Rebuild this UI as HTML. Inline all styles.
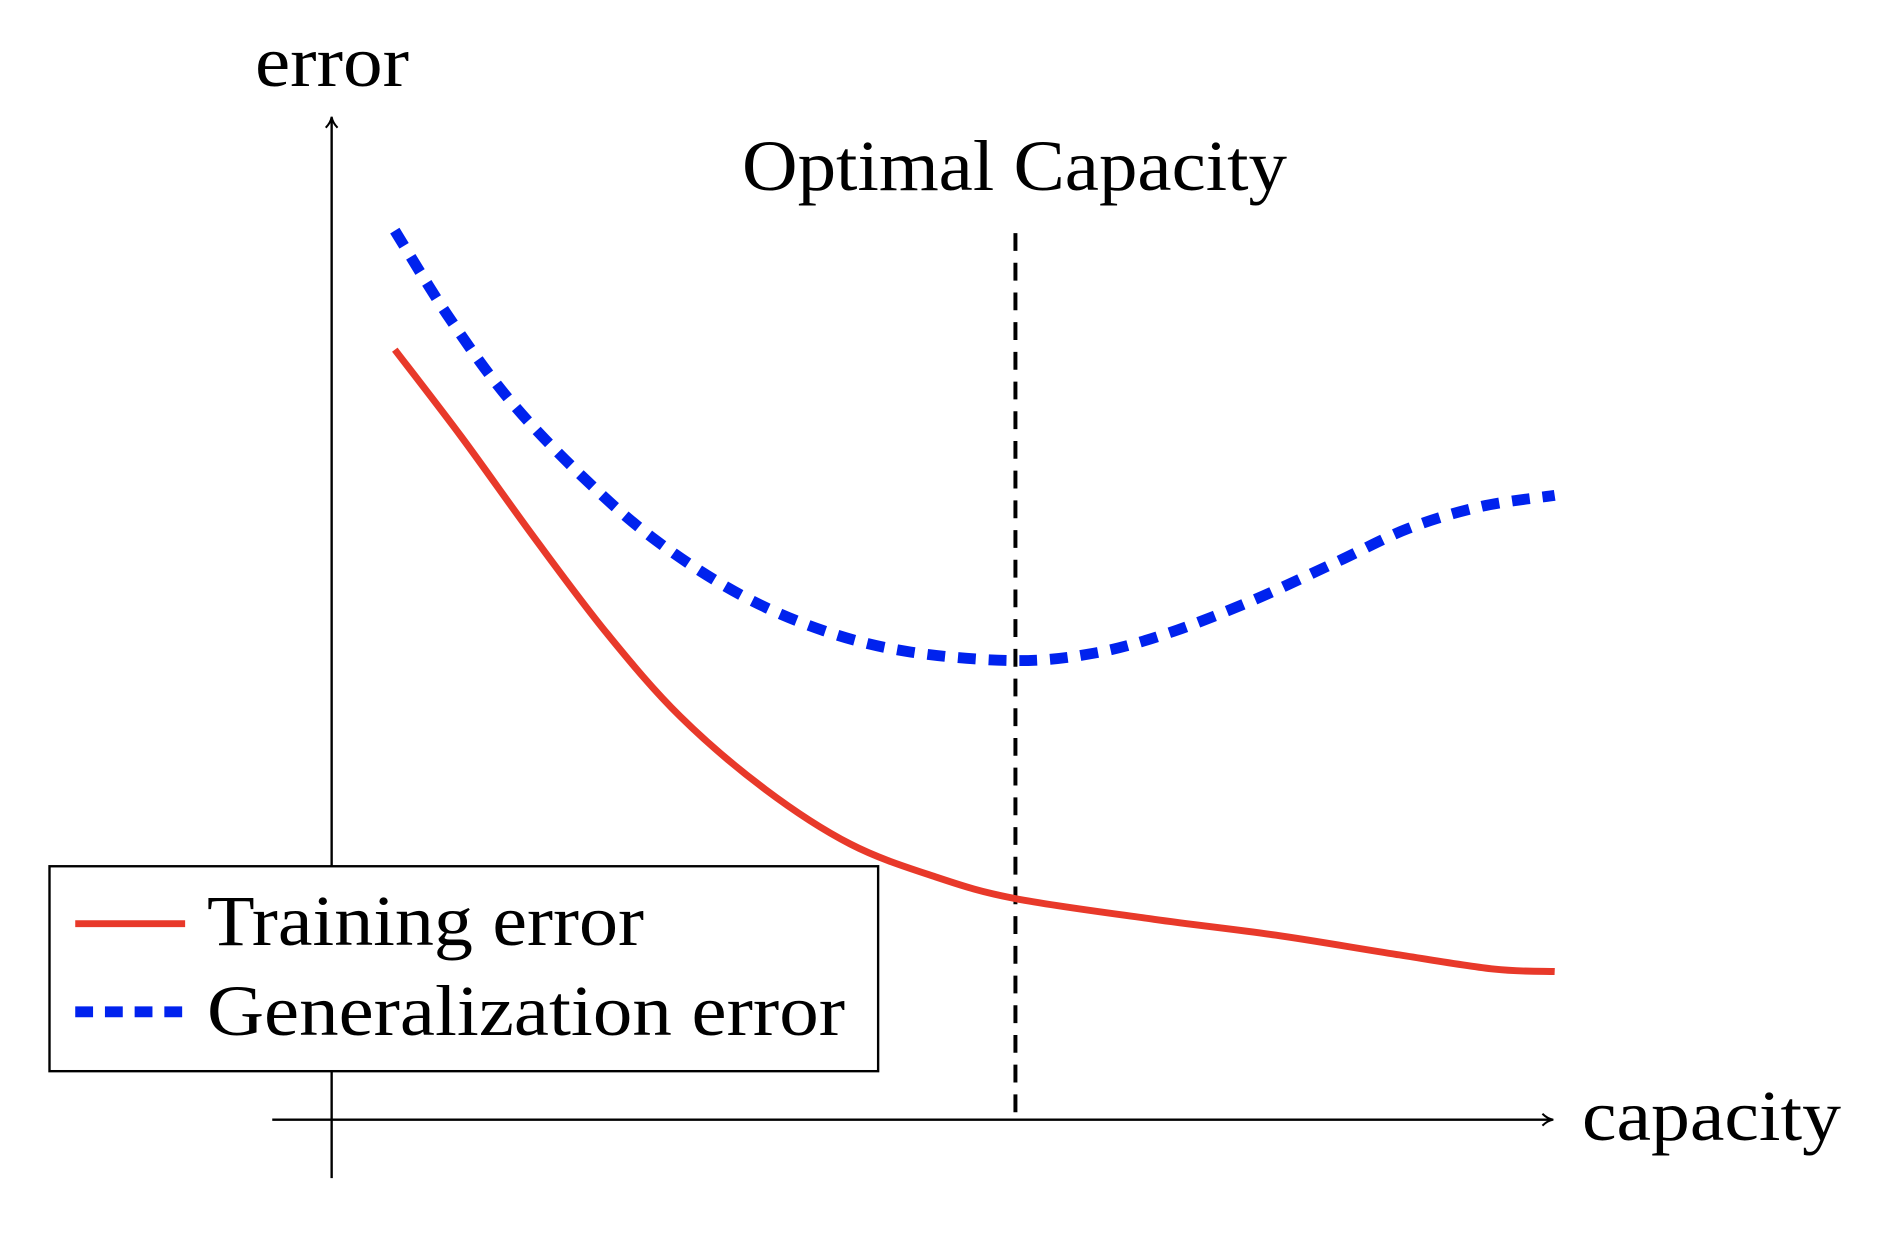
<!DOCTYPE html>
<html><head><meta charset="utf-8"><style>
html,body{margin:0;padding:0;background:#fff;}
svg text{font-family:"Liberation Serif",serif;fill:#000;}
</style></head><body>
<svg id="chart" width="1904" height="1240" viewBox="0 0 1904 1240" xmlns="http://www.w3.org/2000/svg">
<defs><marker id="arr" markerWidth="14" markerHeight="14" refX="11" refY="7" orient="auto" markerUnits="userSpaceOnUse"><path d="M1,1 Q6,6 12,7 Q6,8 1,13" fill="none" stroke="#000" stroke-width="2"/></marker></defs>
<g transform="scale(0.99)">
<line x1="335" y1="1190" x2="335" y2="119" stroke="#000" stroke-width="2.4" marker-end="url(#arr)"/>
<line x1="275" y1="1131" x2="1568" y2="1131" stroke="#000" stroke-width="2.4" marker-end="url(#arr)"/>
<line id="optline" stroke="#000" stroke-width="4" stroke-dasharray="18,12"/>
<g id="series"></g>
<rect x="50" y="875" width="837" height="207" fill="#fff" stroke="#000" stroke-width="2.4"/>
<line x1="76" y1="933" x2="187" y2="933" stroke="#e8392a" stroke-width="7"/>
<line x1="76" y1="1022" x2="187" y2="1022" stroke="#0022ee" stroke-width="11" stroke-dasharray="18,12"/>
</g>
<text x="255" y="86" font-size="72" textLength="154" lengthAdjust="spacingAndGlyphs">error</text>
<text x="1582" y="1140" font-size="72" textLength="259" lengthAdjust="spacingAndGlyphs">capacity</text>
<text x="742" y="190" font-size="72" textLength="545" lengthAdjust="spacingAndGlyphs">Optimal Capacity</text>
<text x="207" y="945" font-size="72" textLength="437" lengthAdjust="spacingAndGlyphs">Training error</text>
<text x="207" y="1035" font-size="72" textLength="638" lengthAdjust="spacingAndGlyphs">Generalization error</text>
</svg>
<script>
const trainCap = [0.52,1.07,1.67,2.27,2.87,3.57,4.27,4.97,5.63,6.77,7.77,8.77,9.57,10.07];
const trainErr = [6.34,5.62,4.79,4.00,3.32,2.72,2.27,2.00,1.82,1.65,1.52,1.36,1.24,1.22];
const genCap = [0.52,0.97,1.47,2.07,2.67,3.37,4.07,4.77,5.63,6.27,6.87,7.57,8.27,8.87,9.47,10.07];
const genErr = [7.32,6.60,5.92,5.29,4.77,4.32,4.02,3.85,3.78,3.84,4.00,4.27,4.59,4.87,5.05,5.14];
const optimalCap = 5.63;
const optimalTop = 7.3;
function xs(c){return 335 + c*122.68;}
function ys(e){return 1131 - e*122.68;}
function pathFrom(cs, es){
  const p = cs.map((c,i)=>[xs(c), ys(es[i])]);
  let d = 'M'+p[0][0]+','+p[0][1];
  for(let i=0;i<p.length-1;i++){
    const p0=p[Math.max(0,i-1)], p1=p[i], p2=p[i+1], p3=p[Math.min(p.length-1,i+2)];
    const c1=[p1[0]+(p2[0]-p0[0])/6, p1[1]+(p2[1]-p0[1])/6];
    const c2=[p2[0]-(p3[0]-p1[0])/6, p2[1]-(p3[1]-p1[1])/6];
    d+=' C'+c1[0]+','+c1[1]+' '+c2[0]+','+c2[1]+' '+p2[0]+','+p2[1];
  }
  return d;
}
const ns='http://www.w3.org/2000/svg';
const g=document.getElementById('series');
const tr=document.createElementNS(ns,'path');


tr.setAttribute('d', pathFrom(trainCap, trainErr));
tr.setAttribute('fill','none');tr.setAttribute('stroke','#e8392a');tr.setAttribute('stroke-width','7');
g.appendChild(tr);
const ge=document.createElementNS(ns,'path');


ge.setAttribute('d', pathFrom(genCap, genErr));
ge.setAttribute('fill','none');ge.setAttribute('stroke','#0022ee');ge.setAttribute('stroke-width','11');ge.setAttribute('stroke-dasharray','18,13');
g.appendChild(ge);
const ol=document.getElementById('optline');
ol.setAttribute('x1',xs(optimalCap));ol.setAttribute('x2',xs(optimalCap));
ol.setAttribute('y1',ys(optimalTop));ol.setAttribute('y2',ys(0));
</script>
</body></html>
